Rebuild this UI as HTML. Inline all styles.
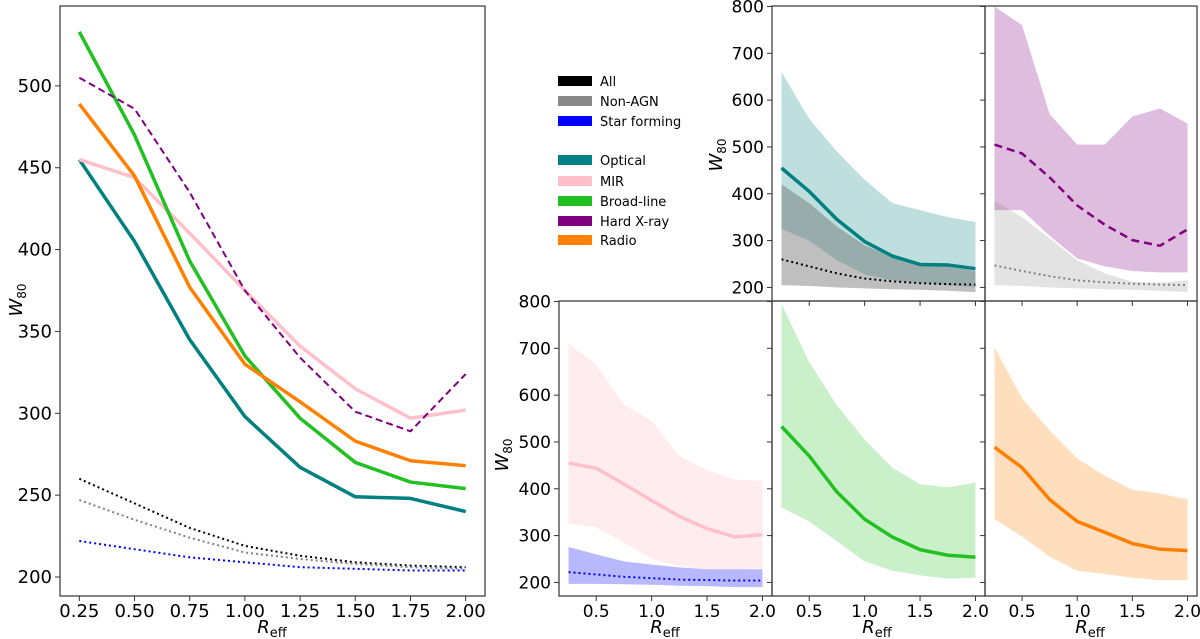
<!DOCTYPE html>
<html><head><meta charset="utf-8"><style>
html,body{margin:0;padding:0;background:#fff;}
svg{display:block;font-family:"DejaVu Sans","Liberation Sans",sans-serif;}
</style></head><body>
<svg id="fig" width="1200" height="639" viewBox="0 0 1200 639" xmlns="http://www.w3.org/2000/svg"></svg>
<script>
const radii = [0.25,0.5,0.75,1.0,1.25,1.5,1.75,2.0];
const allVals = [260,245,230,219,213,209,207,206];
const nonAgnVals = [247,235,224,215,211,208,206,205];
const sfVals = [222,217,212,209,206,205,204,204];
const opticalVals = [455,405,345,298,267,249,248,240];
const mirVals = [455,444,410,375,341,315,297,302];
const broadVals = [533,470,393,335,297,270,258,254];
const xrayVals = [505,486,435,375,334,301,289,324];
const radioVals = [489,445,377,330,307,283,271,268];
const opticalHi = [660,560,490,430,380,365,350,340];
const opticalLo = [325,300,258,228,215,210,205,200];
const nonAgnHi = [420,380,330,290,265,250,245,235];
const nonAgnLo = [205,203,200,198,196,195,193,190];
const xrayHi = [800,760,570,505,505,565,582,550];
const xrayLo = [365,365,310,262,245,235,232,232];
const nonAgnHi2 = [385,350,305,258,230,212,210,215];
const mirHi = [710,665,580,545,470,440,420,417];
const mirLo = [325,318,285,250,235,228,228,230];
const sfHi = [276,260,245,238,232,228,228,228];
const sfLo = [197,197,196,195,193,192,190,190];
const broadHi = [795,670,578,505,445,410,403,413];
const broadLo = [360,330,288,245,225,215,208,210];
const radioHi = [702,593,525,465,428,398,390,377];
const radioLo = [335,298,255,225,218,210,205,205];
const mainYTicks = [200,250,300,350,400,450,500];
const mainXTicks = [0.25,0.5,0.75,1.0,1.25,1.5,1.75,2.0];
const mainXLabels = ["0.25","0.50","0.75","1.00","1.25","1.50","1.75","2.00"];
const subYTicks = [200,300,400,500,600,700,800];
const subXTicks = [0.5,1.0,1.5,2.0];
const subXLabels = ["0.5","1.0","1.5","2.0"];

const NS="http://www.w3.org/2000/svg";
const svg=document.getElementById('fig');
function el(tag,attrs,parent){const e=document.createElementNS(NS,tag);for(const k in attrs)e.setAttribute(k,attrs[k]);(parent||svg).appendChild(e);return e;}
function mkAxis(x0,x1,y0,y1,xmin,xmax,ymin,ymax){
  return {x:v=>x0+(v-xmin)/(xmax-xmin)*(x1-x0), y:v=>y1-(v-ymin)/(ymax-ymin)*(y1-y0), x0,x1,y0,y1};
}
function line(ax,vals,color,w,dash,name,g){
  const p=el('polyline',{points:radii.map((r,i)=>ax.x(r)+','+ax.y(vals[i])).join(' '),fill:'none',stroke:color,'stroke-width':w,'stroke-linejoin':'round'},g);
  if(dash)p.setAttribute('stroke-dasharray',dash);
  
  
}
function band(ax,hi,lo,color,op,name,g){
  const pts=radii.map((r,i)=>ax.x(r)+','+ax.y(hi[i])).concat(radii.map((r,i)=>ax.x(r)+','+ax.y(lo[i])).reverse());
  const p=el('polygon',{points:pts.join(' '),fill:color,'fill-opacity':op},g);
  
  
}
function frame(ax,name){
  const r=el('rect',{x:ax.x0,y:ax.y0,width:ax.x1-ax.x0,height:ax.y1-ax.y0,fill:'none',stroke:'#333','stroke-width':1.2});
  
  
}
function clip(ax,id){const c=el('clipPath',{id:id});el('rect',{x:ax.x0,y:ax.y0,width:ax.x1-ax.x0,height:ax.y1-ax.y0},c);const g=el('g',{'clip-path':'url(#'+id+')'});return g;}
function yTicks(ax,ticks,labels,fs,name){
  ticks.forEach(t=>{
    const y=ax.y(t);
    el('line',{x1:ax.x0-5,x2:ax.x0,y1:y,y2:y,stroke:'#333','stroke-width':1});
    if(labels){const tx=el('text',{x:ax.x0-8,y:y+6,'text-anchor':'end','font-size':fs,fill:'#000'});tx.textContent=String(t);
      
      }
  });
}
function xTicks(ax,ticks,labels,fs,name,dir){
  ticks.forEach((t,i)=>{
    const x=ax.x(t);
    el('line',{x1:x,x2:x,y1:ax.y1,y2:ax.y1+5*dir,stroke:'#333','stroke-width':1});
    if(labels){const tx=el('text',{x:x,y:ax.y1+21,'text-anchor':'middle','font-size':fs,fill:'#000'});tx.textContent=labels[i];
      
      }
  });
}
function ylab(x,y,name){
  const t=el('text',{x:0,y:0,transform:'translate('+x+','+y+') rotate(-90)','text-anchor':'middle','font-size':18,'font-style':'italic'});
  t.innerHTML='W<tspan font-size="12" font-style="normal" dy="4">80</tspan>';
  
  
}
function xlab(x,y,name){
  const t=el('text',{x:x,y:y,'text-anchor':'middle','font-size':18,'font-style':'italic'});
  t.innerHTML='R<tspan font-size="13" font-style="normal" dy="4">eff</tspan>';
  
  
}

// Main panel
const A=mkAxis(60,485,6,596,0.1625,2.0875,188.4,548.8);
const gA=clip(A,'cA');
line(A,allVals,'#000',2,'2 3','all-line',gA);
line(A,nonAgnVals,'#808080',2,'2 3','non-agn-line',gA);
line(A,sfVals,'#0000ff',2,'2 3','star-forming-line',gA);
line(A,opticalVals,'#008080',3.5,null,'optical-line',gA);
line(A,mirVals,'#ffc0cb',3.5,null,'mir-line',gA);
line(A,broadVals,'#22c022',3.5,null,'broad-line-line',gA);
line(A,xrayVals,'#800080',2,'7 4','hard-xray-line',gA);
line(A,radioVals,'#ff8000',3.5,null,'radio-line',gA);
frame(A,'main-frame');
yTicks(A,mainYTicks,true,18,'main-y-tick');
xTicks(A,mainXTicks,mainXLabels,18,'main-x-tick',1);
ylab(22,300,'main-y-axis-title');
xlab(272,633,'main-x-axis-title');

// Legend
const leg=[["All","#000"],["Non-AGN","#888"],["Star forming","#0000ff"],null,["Optical","#008080"],["MIR","#ffc0cb"],["Broad-line","#22c022"],["Hard X-ray","#800080"],["Radio","#ff8000"]];
const legY=[81,101,121,0,160,181,201,221,240];
leg.forEach((e,i)=>{ if(!e)return;
  const g=el('g',{});
  
  
  el('rect',{x:558,y:legY[i]-5,width:34,height:10,fill:e[1]},g);
  const t=el('text',{x:600,y:legY[i]+5,'font-size':13},g);t.textContent=e[0];
});

// Sub panels
const yLo=171, yHi=801;
const P1=mkAxis(772,985,6,301,0.164,2.086,yLo,yHi);
const P2=mkAxis(985,1197,6,301,0.164,2.086,yLo,yHi);
const P3=mkAxis(559,772,301,596,0.164,2.086,yLo,yHi);
const P4=mkAxis(772,985,301,596,0.164,2.086,yLo,yHi);
const P5=mkAxis(985,1197,301,596,0.164,2.086,yLo,yHi);

let g=clip(P1,'c1');
band(P1,opticalHi,opticalLo,'#008080',0.25,'optical-band',g);
band(P1,nonAgnHi,nonAgnLo,'#606060',0.4,'non-agn-band',g);
line(P1,allVals,'#000',2,'2 3','all-line',g);
line(P1,opticalVals,'#008080',3.5,null,'optical-line',g);

g=clip(P2,'c2');
band(P2,xrayHi,xrayLo,'#800080',0.26,'hard-xray-band',g);
band(P2,nonAgnHi2,nonAgnLo,'#808080',0.22,'non-agn-band',g);
line(P2,nonAgnVals,'#808080',2,'2 3','non-agn-line',g);
line(P2,xrayVals,'#800080',2.5,'8 5','hard-xray-line',g);

g=clip(P3,'c3');
band(P3,mirHi,mirLo,'#ffc0cb',0.3,'mir-band',g);
band(P3,sfHi,sfLo,'#0000ff',0.28,'star-forming-band',g);
line(P3,sfVals,'#0000ff',2,'2 3','star-forming-line',g);
line(P3,mirVals,'#ffc0cb',3.5,null,'mir-line',g);

g=clip(P4,'c4');
band(P4,broadHi,broadLo,'#22c022',0.24,'broad-line-band',g);
line(P4,broadVals,'#22c022',3.5,null,'broad-line-line',g);

g=clip(P5,'c5');
band(P5,radioHi,radioLo,'#ff8000',0.26,'radio-band',g);
line(P5,radioVals,'#ff8000',3.5,null,'radio-line',g);

[P1,P2,P3,P4,P5].forEach((p,i)=>frame(p,'subplot-frame-'+(i+1)));
yTicks(P1,subYTicks,true,17,'top-y-tick');
yTicks(P2,subYTicks,false);
yTicks(P3,subYTicks,true,17,'bottom-y-tick');
yTicks(P4,subYTicks,false);
yTicks(P5,subYTicks,false);
xTicks(P1,subXTicks,null,0,'',1);
xTicks(P2,subXTicks,null,0,'',1);
xTicks(P3,subXTicks,subXLabels,17,'bottom-x-tick',1);
xTicks(P4,subXTicks,subXLabels,17,'bottom-x-tick',1);
xTicks(P5,subXTicks,subXLabels,17,'bottom-x-tick',1);
ylab(722,155,'top-y-axis-title');
ylab(508,455,'bottom-y-axis-title');
xlab(665,633,'x-axis-title-mir');
xlab(877,633,'x-axis-title-broad');
xlab(1090,633,'x-axis-title-radio');
</script>
</body></html>
